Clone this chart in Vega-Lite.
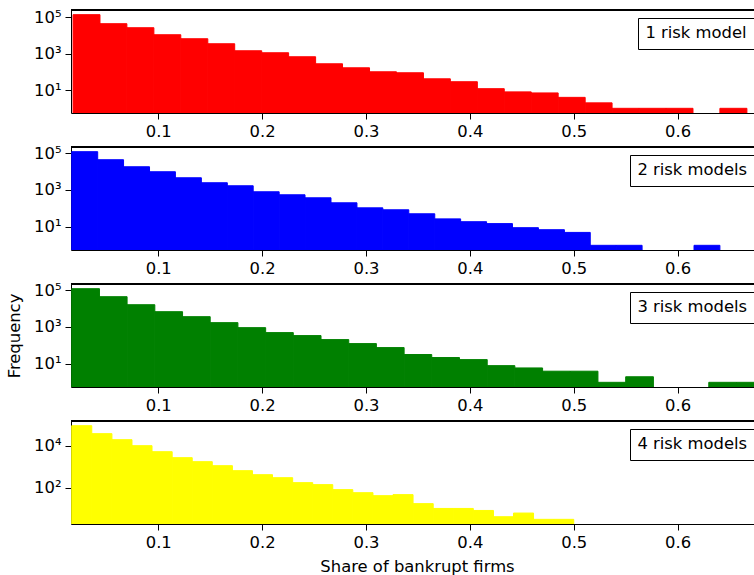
{
  "$schema": "https://vega.github.io/schema/vega-lite/v6.json",
  "padding": {"left": 6, "top": 9, "right": 0, "bottom": 0},
  "background": "white",
  "config": {
    "font": "DejaVu Sans",
    "view": {"stroke": null},
    "axis": {"labelFont": "DejaVu Sans", "labelFontSize": 16.4, "labelColor": "black", "titleFont": "DejaVu Sans", "titleFontSize": 16.4, "titleFontWeight": "normal", "titleColor": "black", "tickColor": "black", "domainColor": "black", "tickSize": 6, "grid": false, "labelPadding": 4},
    "legend": {"orient": "none", "title": null, "strokeColor": "black", "fillColor": "white", "padding": 7, "labelFont": "DejaVu Sans", "labelFontSize": 16.4, "labelColor": "black", "symbolSize": 0, "symbolOpacity": 0, "symbolStrokeWidth": 0, "labelOffset": -16, "cornerRadius": 0}
  },
  "data": {"values": [
    {"panel": "1 risk model", "x0": 0.0180, "x1": 0.0439, "count": 141000},
    {"panel": "1 risk model", "x0": 0.0439, "x1": 0.0698, "count": 45000},
    {"panel": "1 risk model", "x0": 0.0698, "x1": 0.0958, "count": 27000},
    {"panel": "1 risk model", "x0": 0.0958, "x1": 0.1217, "count": 11100},
    {"panel": "1 risk model", "x0": 0.1217, "x1": 0.1477, "count": 6700},
    {"panel": "1 risk model", "x0": 0.1477, "x1": 0.1736, "count": 3550},
    {"panel": "1 risk model", "x0": 0.1736, "x1": 0.1996, "count": 1460},
    {"panel": "1 risk model", "x0": 0.1996, "x1": 0.2255, "count": 1135},
    {"panel": "1 risk model", "x0": 0.2255, "x1": 0.2515, "count": 684},
    {"panel": "1 risk model", "x0": 0.2515, "x1": 0.2774, "count": 281},
    {"panel": "1 risk model", "x0": 0.2774, "x1": 0.3034, "count": 169},
    {"panel": "1 risk model", "x0": 0.3034, "x1": 0.3293, "count": 102},
    {"panel": "1 risk model", "x0": 0.3293, "x1": 0.3553, "count": 90},
    {"panel": "1 risk model", "x0": 0.3553, "x1": 0.3812, "count": 42},
    {"panel": "1 risk model", "x0": 0.3812, "x1": 0.4072, "count": 29},
    {"panel": "1 risk model", "x0": 0.4072, "x1": 0.4331, "count": 12},
    {"panel": "1 risk model", "x0": 0.4331, "x1": 0.4591, "count": 8},
    {"panel": "1 risk model", "x0": 0.4591, "x1": 0.4850, "count": 7},
    {"panel": "1 risk model", "x0": 0.4850, "x1": 0.5110, "count": 4},
    {"panel": "1 risk model", "x0": 0.5110, "x1": 0.5369, "count": 2},
    {"panel": "1 risk model", "x0": 0.5369, "x1": 0.5629, "count": 1},
    {"panel": "1 risk model", "x0": 0.5629, "x1": 0.5888, "count": 1},
    {"panel": "1 risk model", "x0": 0.5888, "x1": 0.6148, "count": 1},
    {"panel": "1 risk model", "x0": 0.6407, "x1": 0.6667, "count": 1},
    {"panel": "2 risk models", "x0": 0.0167, "x1": 0.0417, "count": 118000},
    {"panel": "2 risk models", "x0": 0.0417, "x1": 0.0666, "count": 43300},
    {"panel": "2 risk models", "x0": 0.0666, "x1": 0.0916, "count": 18000},
    {"panel": "2 risk models", "x0": 0.0916, "x1": 0.1165, "count": 9670},
    {"panel": "2 risk models", "x0": 0.1165, "x1": 0.1415, "count": 4560},
    {"panel": "2 risk models", "x0": 0.1415, "x1": 0.1665, "count": 2450},
    {"panel": "2 risk models", "x0": 0.1665, "x1": 0.1914, "count": 1680},
    {"panel": "2 risk models", "x0": 0.1914, "x1": 0.2164, "count": 795},
    {"panel": "2 risk models", "x0": 0.2164, "x1": 0.2413, "count": 546},
    {"panel": "2 risk models", "x0": 0.2413, "x1": 0.2663, "count": 375},
    {"panel": "2 risk models", "x0": 0.2663, "x1": 0.2913, "count": 201},
    {"panel": "2 risk models", "x0": 0.2913, "x1": 0.3162, "count": 107},
    {"panel": "2 risk models", "x0": 0.3162, "x1": 0.3412, "count": 84},
    {"panel": "2 risk models", "x0": 0.3412, "x1": 0.3662, "count": 51},
    {"panel": "2 risk models", "x0": 0.3662, "x1": 0.3911, "count": 27},
    {"panel": "2 risk models", "x0": 0.3911, "x1": 0.4161, "count": 19},
    {"panel": "2 risk models", "x0": 0.4161, "x1": 0.4410, "count": 15},
    {"panel": "2 risk models", "x0": 0.4410, "x1": 0.4660, "count": 9},
    {"panel": "2 risk models", "x0": 0.4660, "x1": 0.4910, "count": 7},
    {"panel": "2 risk models", "x0": 0.4910, "x1": 0.5159, "count": 5},
    {"panel": "2 risk models", "x0": 0.5159, "x1": 0.5409, "count": 1},
    {"panel": "2 risk models", "x0": 0.5409, "x1": 0.5658, "count": 1},
    {"panel": "2 risk models", "x0": 0.6158, "x1": 0.6407, "count": 1},
    {"panel": "3 risk models", "x0": 0.0167, "x1": 0.0434, "count": 118000},
    {"panel": "3 risk models", "x0": 0.0434, "x1": 0.0700, "count": 43500},
    {"panel": "3 risk models", "x0": 0.0700, "x1": 0.0967, "count": 16000},
    {"panel": "3 risk models", "x0": 0.0967, "x1": 0.1234, "count": 6700},
    {"panel": "3 risk models", "x0": 0.1234, "x1": 0.1500, "count": 3600},
    {"panel": "3 risk models", "x0": 0.1500, "x1": 0.1767, "count": 1710},
    {"panel": "3 risk models", "x0": 0.1767, "x1": 0.2034, "count": 917},
    {"panel": "3 risk models", "x0": 0.2034, "x1": 0.2300, "count": 492},
    {"panel": "3 risk models", "x0": 0.2300, "x1": 0.2567, "count": 339},
    {"panel": "3 risk models", "x0": 0.2567, "x1": 0.2834, "count": 206},
    {"panel": "3 risk models", "x0": 0.2834, "x1": 0.3100, "count": 125},
    {"panel": "3 risk models", "x0": 0.3100, "x1": 0.3367, "count": 76},
    {"panel": "3 risk models", "x0": 0.3367, "x1": 0.3633, "count": 32},
    {"panel": "3 risk models", "x0": 0.3633, "x1": 0.3900, "count": 22},
    {"panel": "3 risk models", "x0": 0.3900, "x1": 0.4167, "count": 17},
    {"panel": "3 risk models", "x0": 0.4167, "x1": 0.4433, "count": 8},
    {"panel": "3 risk models", "x0": 0.4433, "x1": 0.4700, "count": 6},
    {"panel": "3 risk models", "x0": 0.4700, "x1": 0.4967, "count": 4},
    {"panel": "3 risk models", "x0": 0.4967, "x1": 0.5233, "count": 4},
    {"panel": "3 risk models", "x0": 0.5233, "x1": 0.5500, "count": 1},
    {"panel": "3 risk models", "x0": 0.5500, "x1": 0.5767, "count": 2},
    {"panel": "3 risk models", "x0": 0.6300, "x1": 0.6567, "count": 1},
    {"panel": "3 risk models", "x0": 0.6567, "x1": 0.6833, "count": 1},
    {"panel": "4 risk models", "x0": 0.0167, "x1": 0.0360, "count": 94000},
    {"panel": "4 risk models", "x0": 0.0360, "x1": 0.0554, "count": 39000},
    {"panel": "4 risk models", "x0": 0.0554, "x1": 0.0747, "count": 20000},
    {"panel": "4 risk models", "x0": 0.0747, "x1": 0.0940, "count": 10300},
    {"panel": "4 risk models", "x0": 0.0940, "x1": 0.1134, "count": 5300},
    {"panel": "4 risk models", "x0": 0.1134, "x1": 0.1327, "count": 2740},
    {"panel": "4 risk models", "x0": 0.1327, "x1": 0.1520, "count": 1760},
    {"panel": "4 risk models", "x0": 0.1520, "x1": 0.1714, "count": 1130},
    {"panel": "4 risk models", "x0": 0.1714, "x1": 0.1907, "count": 651},
    {"panel": "4 risk models", "x0": 0.1907, "x1": 0.2100, "count": 418},
    {"panel": "4 risk models", "x0": 0.2100, "x1": 0.2294, "count": 300},
    {"panel": "4 risk models", "x0": 0.2294, "x1": 0.2487, "count": 173},
    {"panel": "4 risk models", "x0": 0.2487, "x1": 0.2680, "count": 139},
    {"panel": "4 risk models", "x0": 0.2680, "x1": 0.2873, "count": 80},
    {"panel": "4 risk models", "x0": 0.2873, "x1": 0.3067, "count": 57},
    {"panel": "4 risk models", "x0": 0.3067, "x1": 0.3260, "count": 41},
    {"panel": "4 risk models", "x0": 0.3260, "x1": 0.3453, "count": 46},
    {"panel": "4 risk models", "x0": 0.3453, "x1": 0.3647, "count": 17},
    {"panel": "4 risk models", "x0": 0.3647, "x1": 0.3840, "count": 10},
    {"panel": "4 risk models", "x0": 0.3840, "x1": 0.4033, "count": 10},
    {"panel": "4 risk models", "x0": 0.4033, "x1": 0.4227, "count": 8},
    {"panel": "4 risk models", "x0": 0.4227, "x1": 0.4420, "count": 4},
    {"panel": "4 risk models", "x0": 0.4420, "x1": 0.4613, "count": 6},
    {"panel": "4 risk models", "x0": 0.4613, "x1": 0.4807, "count": 3},
    {"panel": "4 risk models", "x0": 0.4807, "x1": 0.5000, "count": 3}
  ]},
  "bounds": "flush",
  "spacing": 34,
  "resolve": {"scale": {"x": "independent", "y": "independent", "fill": "independent"}, "legend": {"fill": "independent"}, "axis": {"x": "independent", "y": "independent"}},
  "vconcat": [
    {
      "width": 684, "height": 103,
      "transform": [{"filter": "datum.panel == '1 risk model'"}],
      "layer": [
        {"mark": {"type": "bar", "clip": true, "stroke": "#ff0000", "strokeWidth": 1},
         "encoding": {
           "x": {"field": "x0", "type": "quantitative", "scale": {"domain": [0.016, 0.6745], "nice": false, "zero": false}, "axis": {"values": [0.1, 0.2, 0.3, 0.4, 0.5, 0.6], "format": ".1f", "title": null}},
           "x2": {"field": "x1"},
           "y": {"field": "count", "type": "quantitative", "scale": {"type": "log", "domain": [0.553, 254700], "nice": false}, "axis": {"values": [10, 1000, 100000], "labelExpr": "'10' + (datum.value > 50000 ? '⁵' : datum.value > 5000 ? '⁴' : datum.value > 500 ? '³' : datum.value > 50 ? '²' : '¹')", "title": null}},
           "y2": {"datum": 0.553},
           "fill": {"field": "panel", "type": "nominal", "scale": {"range": ["#ff0000"]}, "legend": {"legendX": 567, "legendY": 8}}
         }},
        {"mark": {"type": "rule", "color": "black", "strokeWidth": 1}, "encoding": {"y": {"datum": 254700}}}
      ]
    },
    {
      "width": 684, "height": 103,
      "transform": [{"filter": "datum.panel == '2 risk models'"}],
      "layer": [
        {"mark": {"type": "bar", "clip": true, "stroke": "#0000ff", "strokeWidth": 1},
         "encoding": {
           "x": {"field": "x0", "type": "quantitative", "scale": {"domain": [0.016, 0.6745], "nice": false, "zero": false}, "axis": {"values": [0.1, 0.2, 0.3, 0.4, 0.5, 0.6], "format": ".1f", "title": null}},
           "x2": {"field": "x1"},
           "y": {"field": "count", "type": "quantitative", "scale": {"type": "log", "domain": [0.5575, 211700], "nice": false}, "axis": {"values": [10, 1000, 100000], "labelExpr": "'10' + (datum.value > 50000 ? '⁵' : datum.value > 5000 ? '⁴' : datum.value > 500 ? '³' : datum.value > 50 ? '²' : '¹')", "title": null}},
           "y2": {"datum": 0.5575},
           "fill": {"field": "panel", "type": "nominal", "scale": {"range": ["#0000ff"]}, "legend": {"legendX": 559, "legendY": 8}}
         }},
        {"mark": {"type": "rule", "color": "black", "strokeWidth": 1}, "encoding": {"y": {"datum": 211700}}}
      ]
    },
    {
      "width": 684, "height": 103,
      "transform": [{"filter": "datum.panel == '3 risk models'"}],
      "layer": [
        {"mark": {"type": "bar", "clip": true, "stroke": "#008000", "strokeWidth": 1},
         "encoding": {
           "x": {"field": "x0", "type": "quantitative", "scale": {"domain": [0.016, 0.6745], "nice": false, "zero": false}, "axis": {"values": [0.1, 0.2, 0.3, 0.4, 0.5, 0.6], "format": ".1f", "title": null}},
           "x2": {"field": "x1"},
           "y": {"field": "count", "type": "quantitative", "scale": {"type": "log", "domain": [0.5575, 211700], "nice": false}, "axis": {"values": [10, 1000, 100000], "labelExpr": "'10' + (datum.value > 50000 ? '⁵' : datum.value > 5000 ? '⁴' : datum.value > 500 ? '³' : datum.value > 50 ? '²' : '¹')", "title": "Frequency", "titlePadding": 11}},
           "y2": {"datum": 0.5575},
           "fill": {"field": "panel", "type": "nominal", "scale": {"range": ["#008000"]}, "legend": {"legendX": 559, "legendY": 8}}
         }},
        {"mark": {"type": "rule", "color": "black", "strokeWidth": 1}, "encoding": {"y": {"datum": 211700}}}
      ]
    },
    {
      "width": 684, "height": 103,
      "transform": [{"filter": "datum.panel == '4 risk models'"}],
      "layer": [
        {"mark": {"type": "bar", "clip": true, "stroke": "#ffff00", "strokeWidth": 1},
         "encoding": {
           "x": {"field": "x0", "type": "quantitative", "scale": {"domain": [0.016, 0.6745], "nice": false, "zero": false}, "axis": {"values": [0.1, 0.2, 0.3, 0.4, 0.5, 0.6], "format": ".1f", "title": "Share of bankrupt firms", "titlePadding": 8, "titleX": 346}},
           "x2": {"field": "x1"},
           "y": {"field": "count", "type": "quantitative", "scale": {"type": "log", "domain": [1.79, 157800], "nice": false}, "axis": {"values": [100, 10000], "labelExpr": "'10' + (datum.value > 50000 ? '⁵' : datum.value > 5000 ? '⁴' : datum.value > 500 ? '³' : datum.value > 50 ? '²' : '¹')", "title": null}},
           "y2": {"datum": 1.79},
           "fill": {"field": "panel", "type": "nominal", "scale": {"range": ["#ffff00"]}, "legend": {"legendX": 559, "legendY": 8}}
         }},
        {"mark": {"type": "rule", "color": "black", "strokeWidth": 1}, "encoding": {"y": {"datum": 157800}}}
      ]
    }
  ]
}
